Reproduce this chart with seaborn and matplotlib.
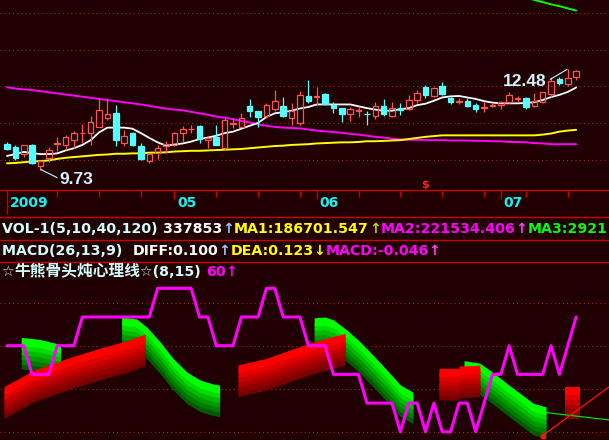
import numpy as np
import matplotlib
matplotlib.use("Agg")
import matplotlib.pyplot as plt
import seaborn as sns

BG = "#200000"
sns.set_style("dark", {"axes.facecolor": BG, "figure.facecolor": BG})
plt.rcParams["font.family"] = ["DejaVu Sans", "Noto Sans CJK SC"]

# ---------------- data ----------------
opens = [10.43, 10.36, 10.16, 10.41, 9.85, 10.05, 10.44, 10.40, 10.54, 10.73,
         10.73, 10.90, 11.15, 11.28, 10.47, 10.73, 10.38, 9.98, 10.18, 10.39,
         10.41, 10.74, 10.83, 10.92, 10.54, 10.63, 10.33, 10.97, 10.90, 11.47,
         11.33, 11.20, 11.39, 11.47, 11.15, 11.00, 11.74, 11.72, 11.79, 11.49,
         11.40, 11.26, 11.32, 11.26, 11.20, 11.47, 11.20, 11.40, 11.39, 11.63,
         11.99, 11.75, 12.01, 11.69, 11.58, 11.60, 11.49, 11.40, 11.48, 11.49,
         11.58, 11.67, 11.68, 11.48, 11.57, 11.79, 12.19, 12.07, 12.25]
closes = [10.29, 10.06, 10.40, 9.91, 9.98, 10.26, 10.47, 10.62, 10.73, 10.74,
          11.02, 11.35, 11.24, 10.55, 10.65, 10.41, 10.02, 10.16, 10.33, 10.43,
          10.73, 10.85, 10.85, 10.56, 10.61, 10.41, 11.09, 11.00, 11.15, 11.34,
          11.18, 11.49, 11.60, 11.20, 11.33, 11.77, 11.60, 11.74, 11.52, 11.40,
          11.25, 11.39, 11.35, 11.24, 11.47, 11.25, 11.40, 11.36, 11.63, 11.81,
          11.77, 11.95, 11.79, 11.58, 11.60, 11.48, 11.39, 11.43, 11.50, 11.58,
          11.77, 11.68, 11.43, 11.61, 11.84, 12.15, 12.08, 12.22, 12.42]
highs = [10.49, 10.40, 10.41, 10.43, 9.99, 10.35, 10.62, 10.68, 10.80, 10.98,
         11.20, 11.68, 11.68, 11.49, 10.82, 10.77, 10.45, 10.17, 10.40, 10.52,
         10.75, 10.92, 10.95, 10.95, 10.62, 10.95, 11.13, 11.13, 11.27, 11.66,
         11.34, 11.54, 11.90, 11.70, 11.54, 11.88, 12.17, 11.99, 11.81, 11.58,
         11.41, 11.43, 11.47, 11.33, 11.57, 11.66, 11.57, 11.54, 11.77, 11.90,
         12.04, 11.98, 12.13, 11.72, 11.68, 11.68, 11.56, 11.58, 11.56, 11.61,
         11.84, 11.75, 11.70, 11.83, 11.86, 12.25, 12.26, 12.48, 12.45]
lows = [10.28, 10.00, 10.07, 9.88, 9.73, 9.95, 10.25, 10.27, 10.33, 10.45,
        10.41, 10.89, 11.09, 10.39, 10.38, 10.39, 10.00, 9.91, 10.03, 10.20,
        10.39, 10.49, 10.73, 10.45, 10.33, 10.40, 10.27, 10.86, 10.89, 11.18,
        10.89, 11.18, 11.34, 11.18, 10.95, 10.95, 11.54, 11.49, 11.49, 11.27,
        11.02, 11.07, 11.18, 10.95, 11.12, 11.20, 11.18, 11.22, 11.36, 11.54,
        11.68, 11.72, 11.77, 11.52, 11.52, 11.43, 11.31, 11.31, 11.43, 11.39,
        11.54, 11.58, 11.39, 11.45, 11.54, 11.72, 12.04, 12.02, 12.17]

ma_white = [10.11, 10.16, 10.22, 10.19, 10.16, 10.16, 10.18, 10.26, 10.32, 10.41,
            10.54, 10.75, 10.88, 10.88, 10.88, 10.85, 10.73, 10.60, 10.48, 10.39,
            10.42, 10.45, 10.50, 10.57, 10.61, 10.66, 10.73, 10.77, 10.85, 10.93,
            11.01, 11.17, 11.27, 11.30, 11.34, 11.40, 11.44, 11.51, 11.51, 11.51,
            11.51, 11.51, 11.46, 11.41, 11.37, 11.34, 11.34, 11.38, 11.41, 11.49,
            11.53, 11.61, 11.70, 11.73, 11.74, 11.70, 11.66, 11.60, 11.56, 11.54,
            11.54, 11.54, 11.55, 11.57, 11.63, 11.71, 11.77, 11.85, 11.97]
ma_yellow = [9.91, 9.92, 9.94, 9.96, 9.97, 9.99, 10.03, 10.06, 10.08, 10.10,
             10.12, 10.14, 10.15, 10.17, 10.17, 10.18, 10.18, 10.20, 10.20, 10.21,
             10.23, 10.24, 10.25, 10.25, 10.26, 10.27, 10.28, 10.29, 10.30, 10.32,
             10.34, 10.36, 10.38, 10.39, 10.41, 10.42, 10.43, 10.45, 10.46, 10.47,
             10.48, 10.48, 10.49, 10.51, 10.51, 10.52, 10.53, 10.54, 10.57, 10.60,
             10.63, 10.65, 10.67, 10.67, 10.67, 10.67, 10.67, 10.67, 10.67, 10.67,
             10.67, 10.67, 10.67, 10.67, 10.69, 10.72, 10.77, 10.80, 10.82]
ma_magenta = [11.98, 11.94, 11.92, 11.90, 11.87, 11.84, 11.81, 11.78, 11.75, 11.72,
              11.69, 11.66, 11.63, 11.60, 11.57, 11.54, 11.51, 11.47, 11.43, 11.40,
              11.37, 11.35, 11.31, 11.27, 11.23, 11.18, 11.15, 11.11, 11.06, 11.02,
              10.97, 10.93, 10.90, 10.88, 10.87, 10.86, 10.83, 10.80, 10.78, 10.76,
              10.74, 10.71, 10.69, 10.66, 10.63, 10.61, 10.58, 10.56, 10.55, 10.55,
              10.54, 10.54, 10.54, 10.53, 10.53, 10.53, 10.52, 10.52, 10.51, 10.51,
              10.49, 10.49, 10.48, 10.46, 10.45, 10.43, 10.43, 10.43, 10.43]
ma_green_idx = [62, 63, 64, 65, 66, 67, 68]
ma_green = [14.42, 14.35, 14.29, 14.23, 14.18, 14.12, 14.06]

low_label, high_label = "9.73", "12.48"

date_major = [0, 20, 37, 59]
date_labels = ["2009", "05", "06", "07"]
date_minor = [6, 11, 16, 25, 30, 35, 42, 47, 52, 57, 62, 67]

psy = [50, 50, 50, 40, 40, 40, 50, 50, 50, 60,
       60, 60, 60, 60, 60, 60, 60, 60, 70, 70,
       70, 70, 70, 60, 60, 50, 50, 50, 60, 60,
       60, 70, 70, 60, 60, 60, 50, 50, 50, 40,
       40, 40, 40, 30, 30, 30, 30, 20, 30, 30,
       20, 30, 20, 20, 30, 30, 20, 30, 40, 40,
       50, 40, 40, 40, 40, 50, 40, 50, 60]

green_bands = [
    ([1.7, 3.9, 5.9, 6.4], [52.9, 52.2, 50.8, 50.2]),
    ([13.7, 15.5, 16.7, 18.3, 19.8, 21.5, 23.1, 24.6, 25.4],
     [60.0, 59.3, 56.5, 51.3, 45.7, 40.8, 38.0, 36.7, 36.3]),
    ([36.7, 38.0, 39.0, 40.6, 42.2, 43.7, 45.4, 47.0, 48.5],
     [59.7, 60.0, 59.0, 55.5, 51.3, 46.8, 41.5, 36.3, 33.8]),
    ([54.6, 56.5, 58.1, 59.7, 61.3, 62.9, 64.4],
     [44.8, 43.9, 40.6, 36.9, 33.4, 29.9, 28.7]),
]
red_bands = [
    ([-0.36, 3.1, 7.2, 11.1, 14.3, 16.5], [35.7, 41.3, 45.6, 49.1, 51.7, 54.1]),
    ([27.6, 31.0, 35.0, 37.4, 40.4], [43.3, 45.6, 49.7, 52.0, 54.3]),
    ([51.6, 53.95, 54.05, 56.5], [42.1, 42.1, 42.9, 43.2]),
    ([66.7, 68.5], [35.5, 35.5]),
]
green_trend_x, green_trend_y = [64.4, 72.0], [26.7, 24.1]
red_trend_x, red_trend_y = [64.0, 72.0], [18.7, 35.8]

# ---------------- layout ----------------
W, H = 609, 440
fig = plt.figure(figsize=(W / 100, H / 100), dpi=100)
fig.patch.set_facecolor(BG)
XL = (-7 / 8.37, (W - 7) / 8.37)

RED_C = "#ff5454"
CYAN_C = "#54ffff"
GRID_C = "#a82c2c"
SEP_C = "#c80000"
LBL_C = "#d4f4ff"

x = np.arange(len(opens))
o = np.array(opens); c = np.array(closes); hi = np.array(highs); lo = np.array(lows)
up = c >= o

# price panel
axp = fig.add_axes([0, 250 / H, 1, 190 / H])
axp.set_xlim(*XL); axp.set_ylim(9.185, 14.348); axp.axis("off")
for g in [10, 11, 12, 13, 14]:
    axp.axhline(g, color=GRID_C, lw=0.75, ls=(0, (1, 3)), zorder=1)

sns.lineplot(x=x, y=ma_magenta, ax=axp, color="#ff00ff", lw=1.4, zorder=2, legend=False)
sns.lineplot(x=x, y=ma_yellow, ax=axp, color="#ffff00", lw=1.4, zorder=2, legend=False)
sns.lineplot(x=x, y=ma_white, ax=axp, color="white", lw=1.3, zorder=2, legend=False)
sns.lineplot(x=ma_green_idx, y=ma_green, ax=axp, color="#00ff00", lw=1.4, zorder=2, legend=False)

top = np.maximum(o, c); bot = np.minimum(o, c)
ccol = [RED_C if u else CYAN_C for u in up]
axp.vlines(x, top, hi, colors=ccol, lw=0.9, zorder=3)
axp.vlines(x, lo, bot, colors=ccol, lw=0.9, zorder=3)
axp.bar(x, np.maximum(top - bot, 0.004), bottom=bot, width=0.66,
        facecolor=["none" if u else CYAN_C for u in up], edgecolor=ccol,
        linewidth=0.9, zorder=4)

axp.plot([4.02, 6.0], [9.745, 9.52], color=LBL_C, lw=0.8, zorder=5)
axp.text(6.3, 9.34, low_label, color=LBL_C, fontsize=12.5, family="Liberation Sans",
         fontweight="bold", ha="left", va="baseline", zorder=6)
axp.plot([64.9, 66.9], [12.19, 12.46], color=LBL_C, lw=0.8, zorder=5)
axp.text(59.26, 12.01, high_label, color=LBL_C, fontsize=12.5, family="Liberation Sans",
         fontweight="bold", ha="left", va="baseline", zorder=6)
axp.text(50, 9.23, "$", color="#ff2020", fontsize=8, fontweight="bold",
         ha="center", va="baseline", zorder=6)

# info strip (y in pixel units)
axi = fig.add_axes([0, 178 / H, 1, 72 / H])
axi.set_xlim(*XL); axi.set_ylim(262, 190); axi.axis("off")
for yy in [190, 217, 240, 262]:
    axi.axhline(yy, color=SEP_C, lw=1.0, clip_on=False)
axi.vlines([0], 190, 214, color=SEP_C, lw=1.0)
axi.vlines(date_major[1:], 190, 199, color=SEP_C, lw=1.0)
axi.vlines(date_minor, 190, 197, color=SEP_C, lw=1.0)
for m, lab in zip(date_major, date_labels):
    axi.text(m + 2.6 / 8.37, 207, lab, color="#10f4f4", fontsize=10, fontweight="bold",
             ha="left", va="baseline")

# indicator panel
axb = fig.add_axes([0, 0, 1, 178 / H])
axb.set_xlim(*XL); axb.set_ylim(17.14, 79.16); axb.axis("off")
for g in [65, 50, 35, 20]:
    axb.axhline(g, color=GRID_C, lw=0.75, ls=(0, (1, 3)), zorder=1)

greens = ["#00ff00", "#00dd00", "#00bb00", "#009a00", "#007a00", "#005c00"]
reds = ["#ff0000", "#e20000", "#c60000", "#aa0000", "#900000", "#780000"]
T, D = 2.8, 1.64

def ribbon(xs, ts, cols, z):
    xs = np.array(xs); ts = np.array(ts)
    for k in range(5, -1, -1):
        axb.fill_between(xs, ts - k * D - T, ts - k * D, color=cols[k], lw=0, zorder=z)

for xs, ts in green_bands:
    ribbon(xs, ts, greens, 2)
for xs, ts in red_bands:
    ribbon(xs, ts, reds, 3)

axb.plot(green_trend_x, green_trend_y, color="#00e000", lw=0.9, zorder=4)
axb.plot(red_trend_x, red_trend_y, color="#ff1010", lw=0.9, zorder=4)
axb.plot(red_trend_x[0], red_trend_y[0], "s", ms=2.5, color="#ff1010", zorder=4)
sns.lineplot(x=x, y=psy, ax=axb, color="#ff00ff", lw=2.2, zorder=6, legend=False)

# text rows
fig.canvas.draw()
rend = fig.canvas.get_renderer()
FAM = ["DejaVu Sans", "Noto Sans CJK SC"]
PALE = "#d0ffff"

def text_row(x0, yb, parts):
    xx = x0
    for s, col, size, fam in parts:
        t = fig.text(xx / W, 1 - yb / H, s, color=col, fontsize=size, fontweight="bold",
                     family=fam, ha="left", va="baseline")
        bb = t.get_window_extent(renderer=rend)
        xx = bb.x1

FS = 10.2
text_row(2.5, 233, [
    ("VOL-1(5,10,40,120) ", PALE, FS, FAM),
    ("337853", "white", FS, FAM), ("↑", "#9cc8ff", FS, FAM),
    ("MA1:186701.547", "#ffff00", FS, FAM), ("↑", "#d0d000", FS, FAM),
    ("MA2:221534.406", "#ff00ff", FS, FAM), ("↑", "#ff40ff", FS, FAM),
    ("MA3:2921", "#00ff00", FS, FAM),
])
text_row(2.5, 255, [
    ("MACD(26,13,9)  ", PALE, FS, FAM),
    ("DIFF:0.100", "white", FS, FAM), ("↑", "#9cc8ff", FS, FAM),
    ("DEA:0.123", "#ffff00", FS, FAM), ("↓", "#ffff00", FS, FAM),
    ("MACD:-0.046", "#ff00ff", FS, FAM), ("↑", "#ff40ff", FS, FAM),
])
text_row(1.5, 276.5, [
    ("☆", PALE, FS, FAM),
    ("牛熊骨头炖心理线", PALE, 11.3, ["Noto Sans CJK SC"]),
    ("☆(8,15) ", PALE, FS, FAM),
    ("60", "#ff00ff", FS, FAM), ("↑", "#ff00ff", FS, FAM),
])

fig.savefig("out.png", dpi=100, facecolor=BG)
